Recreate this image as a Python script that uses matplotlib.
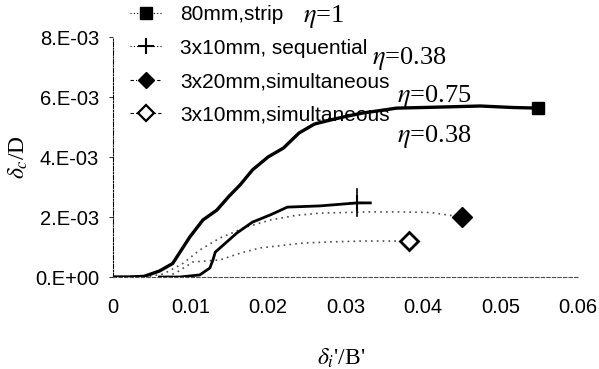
import matplotlib
matplotlib.use("Agg")
import matplotlib.pyplot as plt

plt.rcParams['font.family'] = ['Liberation Sans', 'DejaVu Sans']
plt.rcParams['mathtext.fontset'] = 'stix'

# strip 80mm
strip_x = [0, 0.002, 0.004, 0.006, 0.0077, 0.0099, 0.0116, 0.0134, 0.0150, 0.0164,
           0.0180, 0.0200, 0.0220, 0.0240, 0.0260, 0.0280, 0.0300, 0.0323, 0.0345,
           0.0366, 0.0400, 0.0430, 0.0474, 0.0516, 0.0548]
strip_y = [0, 0, 0.02, 0.2, 0.45, 1.33, 1.9, 2.23, 2.7, 3.07,
           3.57, 4.0, 4.3, 4.8, 5.1, 5.23, 5.35, 5.47, 5.55,
           5.63, 5.65, 5.67, 5.7, 5.65, 5.63]

# 3x10mm sequential
seq_x = [0.006, 0.0086, 0.0112, 0.0125, 0.0129, 0.0132, 0.0160, 0.0180, 0.0203,
         0.0225, 0.0267, 0.0315, 0.0332]
seq_y = [0, 0, 0.07, 0.3, 0.57, 0.83, 1.47, 1.83, 2.07,
         2.33, 2.37, 2.47, 2.47]

# 3x20mm simultaneous
sim20_x = [0.004, 0.0065, 0.009, 0.0112, 0.0138, 0.017, 0.0203, 0.0235, 0.0267,
           0.030, 0.033, 0.037, 0.041, 0.045]
sim20_y = [0, 0.1, 0.45, 0.9, 1.3, 1.65, 1.9, 2.05, 2.13,
           2.15, 2.17, 2.17, 2.15, 2.0]

# 3x10mm simultaneous
sim10_x = [0.007, 0.0085, 0.0103, 0.0138, 0.0165, 0.019, 0.0245, 0.028, 0.0323, 0.0382]
sim10_y = [0, 0.2, 0.5, 0.57, 0.8, 0.97, 1.13, 1.17, 1.2, 1.2]

labels = ['80mm,strip', '3x10mm, sequential', '3x20mm,simultaneous', '3x10mm,simultaneous']
etas = [r'$\eta$=1', r'$\eta$=0.38', r'$\eta$=0.75', r'$\eta$=0.38']

yticks = [0, 0.002, 0.004, 0.006, 0.008]
ytick_labels = ['0.E+00', '2.E-03', '4.E-03', '6.E-03', '8.E-03']
xticks = [0, 0.01, 0.02, 0.03, 0.04, 0.05, 0.06]
xtick_labels = ['0', '0.01', '0.02', '0.03', '0.04', '0.05', '0.06']

fig = plt.figure(figsize=(5.99, 3.69), dpi=100)
ax = fig.add_axes([0.1886, 0.2493, 0.7764, 0.6504])

sc = 1e-3
ax.plot(strip_x, [v * sc for v in strip_y], color='k', lw=2.4, zorder=4)
ax.plot(strip_x[-1], strip_y[-1] * sc, 's', color='k', ms=9, zorder=5)

ax.plot(seq_x, [v * sc for v in seq_y], color='k', lw=2.0, zorder=4)
ax.plot(seq_x[-2], seq_y[-2] * sc, '+', color='k', ms=12, mew=1.5, zorder=5)
ax.plot([seq_x[-2], seq_x[-2]], [seq_y[-2] * sc - 0.45e-3, seq_y[-2] * sc + 0.45e-3],
        color='k', lw=1.2, zorder=5)

ax.plot(sim20_x, [v * sc for v in sim20_y], color='0.3', lw=1.2, ls=(0, (1, 2.5)))
ax.plot(sim20_x[-1], sim20_y[-1] * sc, 'D', color='k', ms=10, zorder=5)

ax.plot(sim10_x, [v * sc for v in sim10_y], color='0.3', lw=1.2, ls=(0, (1, 2.5)))
ax.plot(sim10_x[-1], sim10_y[-1] * sc, 'D', mfc='white', mec='k', mew=2, ms=9, zorder=5)

ax.set_xlim(0, 0.06)
ax.set_ylim(0, 0.008)
ax.set_xticks(xticks)
ax.set_xticklabels(xtick_labels, fontsize=14.5)
ax.set_yticks(yticks)
ax.set_yticklabels(ytick_labels, fontsize=14.5)
ax.tick_params(axis='x', length=0, pad=15)
ax.tick_params(axis='y', length=3, width=0.6, pad=7)

for s in ['top', 'right']:
    ax.spines[s].set_visible(False)
ax.spines['left'].set_linestyle((0, (4, 1.5, 1, 1.5)))
ax.spines['left'].set_linewidth(0.8)
ax.spines['bottom'].set_linestyle((0, (3, 2)))
ax.spines['bottom'].set_linewidth(0.8)
ax.spines['bottom'].set_color('0.3')

ax.set_xlabel(r"$\delta_i$'/B'", fontsize=17, family='Liberation Serif')
ax.set_ylabel(r"$\delta_c$/D", fontsize=17, family='Liberation Serif')
ax.xaxis.set_label_coords(0.49, -0.29)
ax.yaxis.set_label_coords(-0.178, 0.5)

# legend handles
h = []
h.append(plt.Line2D([], [], color='k', ls=(0, (1, 2)), lw=0.8, marker='s', ms=9))
h.append(plt.Line2D([], [], color='k', ls=(0, (1, 2)), lw=0.8, marker='+', ms=11, mew=1.5))
h.append(plt.Line2D([], [], color='k', ls=(0, (3, 2, 1, 2)), lw=0.8, marker='D', ms=8))
h.append(plt.Line2D([], [], color='k', ls=(0, (3, 2)), lw=0.8, marker='D', ms=8,
                    mfc='white', mew=1.6))
fig.legend(h, labels, loc='upper left', bbox_to_anchor=(130 / 599, 1 - 5 / 369),
           frameon=False, fontsize=15, handlelength=1.5, handletextpad=0.9,
           labelspacing=0.7, borderpad=0, borderaxespad=0)

eta_x = [303, 372, 397, 397]
eta_y = [17, 58, 96, 136]
for t, ex, ey in zip(etas, eta_x, eta_y):
    fig.text(ex / 599, 1 - ey / 369, t, fontsize=19, family='Liberation Serif',
             va='center', ha='left')

fig.savefig('out.png', dpi=100)
